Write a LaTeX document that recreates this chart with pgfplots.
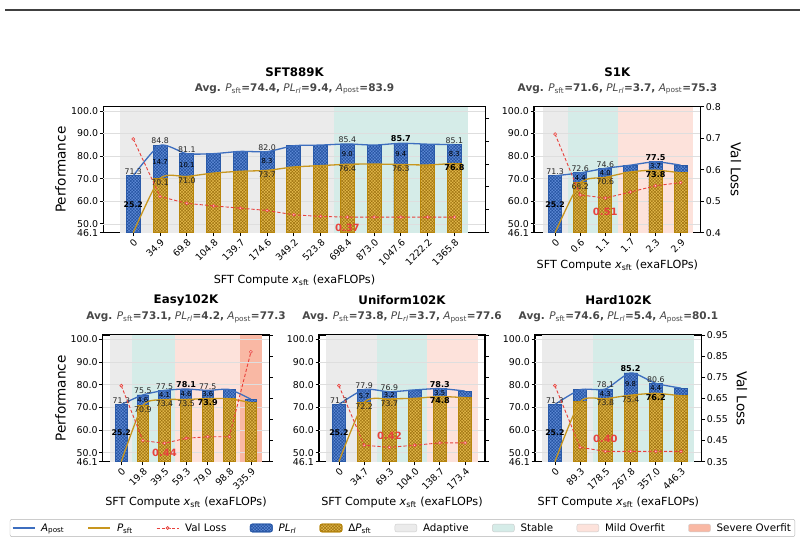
\documentclass[border=0pt]{standalone}
\usepackage{fontspec}
\setmainfont{DejaVu Sans}
\usepackage{pgfplots}
\usepackage{pgfplotstable}
\pgfplotsset{compat=1.18}
\usetikzlibrary{patterns.meta}

\definecolor{cBlue}{HTML}{3D6EBF}
\definecolor{cBlueFill}{HTML}{5E8AD6}
\definecolor{cBlueHatch}{HTML}{22509E}
\definecolor{cBlueEdge}{HTML}{2A5AA8}
\definecolor{cGold}{HTML}{C8961E}
\definecolor{cGoldFill}{HTML}{E4BA4C}
\definecolor{cGoldHatch}{HTML}{9E7210}
\definecolor{cGoldEdge}{HTML}{B8860B}
\definecolor{cRed}{HTML}{E8413C}
\definecolor{bgAd}{HTML}{EBEBEB}
\definecolor{bgSt}{HTML}{D5ECE8}
\definecolor{bgMi}{HTML}{FDE2DB}
\definecolor{bgSe}{HTML}{F9B8A4}

\newcommand{\fs}[1]{\fontsize{#1}{#1}\selectfont}
\newcommand{\Apost}{\textit{A}\textsubscript{post}}
\newcommand{\Psft}{\textit{P}\textsubscript{sft}}
\newcommand{\PLrl}{\textit{PL}\textsubscript{\textit{rl}}}
\newcommand{\xsft}{\textit{x}\textsubscript{sft}}
\newcommand{\subt}[3]{\textbf{Avg.} \Psft\textbf{=#1,} \PLrl\textbf{=#2,} \Apost\textbf{=#3}}

\newcommand{\LA}[2]{\node[anchor=south,inner sep=1pt,font=\fs{7.8},text=black!85] at (axis cs:#1,#2) {#2};}
\newcommand{\LAb}[2]{\node[anchor=south,inner sep=1pt,font=\bfseries\fs{8.1}] at (axis cs:#1,#2) {#2};}
\newcommand{\LP}[2]{\node[anchor=north,inner sep=1pt,font=\fs{7.8},text=black!85] at (axis cs:#1,#2) {#2};}
\newcommand{\LPb}[2]{\node[anchor=north,inner sep=1pt,font=\bfseries\fs{8.1}] at (axis cs:#1,#2) {#2};}
\newcommand{\LL}[4]{\node[inner sep=0pt,font=\fs{6.8}] at (axis cs:#1,{(#2+#3)/2}) {#4};}
\newcommand{\LZ}{\node[inner sep=0pt,font=\bfseries\fs{7.8}] at (axis cs:0,58.7) {25.2};}
\newcommand{\hgrid}[2]{\pgfplotsinvokeforeach{50,60,70,80,90,100}{\draw[black!13,line width=0.7pt] (axis cs:#1,##1) -- (axis cs:#2,##1);}}

\tikzset{minlab/.style={font=\bfseries\fs{10}, text=cRed, inner sep=0pt}}

\pgfplotsset{
  base/.style={scale only axis, anchor=south west, clip mode=individual,
    tick align=outside, major tick length=3.5pt,
    tick style={black, line width=0.8pt},
    axis line style={line width=1.1pt},
    /pgf/number format/assume math mode=true,
    ticklabel style={font=\fs{9.4}}},
  perf/.style={base, ymin=46.1, ymax=101.9,
    ytick={46.1,50,60,70,80,90,100},
    yticklabels={46.1,50.0,60.0,70.0,80.0,90.0,100.0},
    xtick pos=left, ytick pos=left,
    xticklabel style={rotate=45, anchor=north east, inner sep=1pt},
    yticklabel style={inner sep=1.5pt}},
  loss/.style={axis x line=none, axis y line*=right, base,
    yticklabel style={inner sep=1.5pt}},
  nolab/.style={yticklabels={{},{},{},{},{},{},{},{}}},
  hatchA/.style={fill=cBlueFill, draw=cBlueEdge,
    postaction={pattern={Hatch[angle=45,distance=2.2pt,line width=0.5pt]}, pattern color=cBlueHatch}},
  hatchP/.style={fill=cGoldFill, draw=cGoldEdge,
    postaction={pattern={Hatch[angle=45,distance=2.2pt,line width=0.5pt]}, pattern color=cGoldHatch}},
  barA/.style={ybar, bar width=0.52, bar shift=0pt, hatchA, line width=0.8pt},
  barP/.style={ybar, bar width=0.52, bar shift=0pt, hatchP, line width=0.8pt, skip coords between index={0}{1}},
  lineA/.style={color=cBlue, line width=1.3pt, smooth, tension=0.4, mark=none},
  lineP/.style={color=cGold, line width=1.3pt, smooth, tension=0.4, mark=none},
  lossline/.style={color=cRed, line width=0.9pt, dash pattern=on 3.2pt off 2pt, mark=*, mark size=1.5pt,
    mark options={solid, fill=cRed!20, draw=cRed, line width=0.6pt}},
  lg line/.style={legend image code/.code={\draw[mark repeat=2,mark phase=2,##1] plot coordinates {(0pt,0pt) (11pt,0pt) (22pt,0pt)};}},
  lg patch/.style={legend image code/.code={\draw[##1] (0pt,-3.9pt) rectangle (22pt,3.9pt);}},
}

\pgfplotstableread{
x A P V
0 71.3 46.1 0.709
1 84.8 70.1 0.458
2 81.1 71.0 0.428
3 81.1 72.5 0.417
4 82.1 73.3 0.407
5 82.0 73.7 0.397
6 84.6 75.2 0.378
7 84.9 75.8 0.371
8 85.4 76.4 0.368
9 84.9 76.5 0.368
10 85.7 76.3 0.368
11 85.3 76.1 0.368
12 85.1 76.8 0.368
}\dTL

\pgfplotstableread{
x A P V
0 71.3 46.1 0.713
1 72.6 68.2 0.520
2 74.6 70.6 0.510
3 76.0 73.0 0.529
4 77.5 73.8 0.549
5 76.0 72.6 0.559
}\dSK

\pgfplotstableread{
x A P V
0 71.3 46.1 0.710
1 75.5 70.9 0.450
2 77.5 73.4 0.437
3 78.1 73.5 0.461
4 77.5 73.9 0.468
5 77.9 73.8 0.468
6 73.6 72.1 0.870
}\dEA

\pgfplotstableread{
x A P V
0 71.3 46.1 0.710
1 77.9 72.2 0.428
2 76.9 73.7 0.418
3 77.7 74.0 0.428
4 78.3 74.8 0.439
5 77.2 74.3 0.439
}\dUN

\pgfplotstableread{
x A P V
0 71.3 46.1 0.710
1 77.8 72.5 0.418
2 78.1 73.8 0.399
3 85.2 75.4 0.399
4 80.6 76.2 0.399
5 78.5 75.1 0.399
}\dHA

\begin{document}
\begin{tikzpicture}[x=1pt,y=1pt]
\path[use as bounding box] (0,0) rectangle (804,545);
\draw[black!75, line width=1.4pt] (5,535) -- (800,535);

% ---------------- SFT889K
\begin{axis}[perf, at={(103.3pt,312.3pt)}, width=382.4pt, height=126pt, xmin=-1.12, xmax=13.17,
  xtick={0,1,2,3,4,5,6,7,8,9,10,11,12},
  xticklabels={0,34.9,69.8,104.8,139.7,174.6,349.2,523.8,698.4,873.0,1047.6,1222.2,1365.8}]
\fill[bgAd] (axis cs:-0.5,46.1) rectangle (axis cs:7.5,101.9);
\fill[bgSt] (axis cs:7.5,46.1) rectangle (axis cs:12.5,101.9);
\hgrid{-1.12}{13.17}
\addplot[barA] table[x=x,y=A]{\dTL};
\addplot[barP] table[x=x,y=P]{\dTL};
\addplot[lineA] table[x=x,y=A]{\dTL};
\addplot[lineP] table[x=x,y=P]{\dTL};
\LA{0}{71.3} \LZ
\LA{1}{84.8} \LP{1}{70.1} \LL{1}{84.8}{70.1}{14.7}
\LA{2}{81.1} \LP{2}{71.0} \LL{2}{81.1}{71.0}{10.1}
\LA{5}{82.0} \LP{5}{73.7} \LL{5}{82.0}{73.7}{8.3}
\LA{8}{85.4} \LP{8}{76.4} \LL{8}{85.4}{76.4}{9.0}
\LAb{10}{85.7} \LP{10}{76.3} \LL{10}{85.7}{76.3}{9.4}
\LA{12}{85.1} \LPb{12}{76.8} \LL{12}{85.1}{76.8}{8.3}
\end{axis}
\begin{axis}[loss, nolab, at={(103.3pt,312.3pt)}, width=382.4pt, height=126pt, xmin=-1.12, xmax=13.17,
  ymin=0.3, ymax=0.85, ytick={0.3,0.4,0.5,0.6,0.7,0.8}]
\addplot[lossline] table[x=x,y=V]{\dTL};
\node[minlab, yshift=-11pt] at (axis cs:8,0.368) {0.37};
\end{axis}

% ---------------- S1K
\begin{axis}[perf, at={(534pt,312.3pt)}, width=166.7pt, height=126pt, xmin=-0.84, xmax=5.8,
  xtick={0,1,2,3,4,5}, xticklabels={0,0.6,1.1,1.7,2.3,2.9}]
\fill[bgAd] (axis cs:-0.5,46.1) rectangle (axis cs:0.5,101.9);
\fill[bgSt] (axis cs:0.5,46.1) rectangle (axis cs:2.5,101.9);
\fill[bgMi] (axis cs:2.5,46.1) rectangle (axis cs:5.5,101.9);
\hgrid{-0.84}{5.8}
\addplot[barA] table[x=x,y=A]{\dSK};
\addplot[barP] table[x=x,y=P]{\dSK};
\addplot[lineA] table[x=x,y=A]{\dSK};
\addplot[lineP] table[x=x,y=P]{\dSK};
\LA{0}{71.3} \LZ
\LA{1}{72.6} \LP{1}{68.2} \LL{1}{72.6}{68.2}{4.4}
\LA{2}{74.6} \LP{2}{70.6} \LL{2}{74.6}{70.6}{4.0}
\LAb{4}{77.5} \LPb{4}{73.8} \LL{4}{77.5}{73.8}{3.7}
\end{axis}
\begin{axis}[loss, at={(534pt,312.3pt)}, width=166.7pt, height=126pt, xmin=-0.84, xmax=5.8,
  ymin=0.4, ymax=0.8, ytick={0.4,0.5,0.6,0.7,0.8}, yticklabels={0.4,0.5,0.6,0.7,0.8}]
\addplot[lossline] table[x=x,y=V]{\dSK};
\node[minlab, yshift=-14pt] at (axis cs:2,0.510) {0.51};
\end{axis}

% ---------------- Easy102K
\begin{axis}[perf, at={(102.7pt,83.3pt)}, width=166.6pt, height=126.7pt, xmin=-0.86, xmax=6.85,
  xtick={0,1,2,3,4,5,6}, xticklabels={0,19.8,39.5,59.3,79.0,98.8,335.9}]
\fill[bgAd] (axis cs:-0.5,46.1) rectangle (axis cs:0.5,101.9);
\fill[bgSt] (axis cs:0.5,46.1) rectangle (axis cs:2.5,101.9);
\fill[bgMi] (axis cs:2.5,46.1) rectangle (axis cs:5.5,101.9);
\fill[bgSe] (axis cs:5.5,46.1) rectangle (axis cs:6.5,101.9);
\hgrid{-0.86}{6.85}
\addplot[barA] table[x=x,y=A]{\dEA};
\addplot[barP] table[x=x,y=P]{\dEA};
\addplot[lineA] table[x=x,y=A]{\dEA};
\addplot[lineP] table[x=x,y=P]{\dEA};
\LA{0}{71.3} \LZ
\LA{1}{75.5} \LP{1}{70.9} \LL{1}{75.5}{70.9}{4.6}
\LA{2}{77.5} \LP{2}{73.4} \LL{2}{77.5}{73.4}{4.1}
\LAb{3}{78.1} \LP{3}{73.5} \LL{3}{78.1}{73.5}{4.6}
\LA{4}{77.5} \LPb{4}{73.9} \LL{4}{77.5}{73.9}{3.6}
\end{axis}
\begin{axis}[loss, nolab, at={(102.7pt,83.3pt)}, width=166.6pt, height=126.7pt, xmin=-0.86, xmax=6.85,
  ymin=0.35, ymax=0.95, ytick={0.35,0.45,0.55,0.65,0.75,0.85,0.95}]
\addplot[lossline] table[x=x,y=V]{\dEA};
\node[minlab, yshift=-10pt] at (axis cs:2,0.437) {0.44};
\end{axis}

% ---------------- Uniform102K
\begin{axis}[perf, at={(319pt,83.3pt)}, width=166pt, height=126.7pt, xmin=-0.79, xmax=5.79,
  xtick={0,1,2,3,4,5}, xticklabels={0,34.7,69.3,104.0,138.7,173.4}]
\fill[bgAd] (axis cs:-0.5,46.1) rectangle (axis cs:1.5,101.9);
\fill[bgSt] (axis cs:1.5,46.1) rectangle (axis cs:3.5,101.9);
\fill[bgMi] (axis cs:3.5,46.1) rectangle (axis cs:5.5,101.9);
\hgrid{-0.79}{5.79}
\addplot[barA] table[x=x,y=A]{\dUN};
\addplot[barP] table[x=x,y=P]{\dUN};
\addplot[lineA] table[x=x,y=A]{\dUN};
\addplot[lineP] table[x=x,y=P]{\dUN};
\LA{0}{71.3} \LZ
\LA{1}{77.9} \LP{1}{72.2} \LL{1}{77.9}{72.2}{5.7}
\LA{2}{76.9} \LP{2}{73.7} \LL{2}{76.9}{73.7}{3.2}
\LAb{4}{78.3} \LPb{4}{74.8} \LL{4}{78.3}{74.8}{3.5}
\end{axis}
\begin{axis}[loss, nolab, at={(319pt,83.3pt)}, width=166pt, height=126.7pt, xmin=-0.79, xmax=5.79,
  ymin=0.35, ymax=0.95, ytick={0.35,0.45,0.55,0.65,0.75,0.85,0.95}]
\addplot[lossline] table[x=x,y=V]{\dUN};
\node[minlab, yshift=11pt] at (axis cs:2,0.418) {0.42};
\end{axis}

% ---------------- Hard102K
\begin{axis}[perf, at={(535pt,83.3pt)}, width=166.7pt, height=126.7pt, xmin=-0.79, xmax=5.82,
  xtick={0,1,2,3,4,5}, xticklabels={0,89.3,178.5,267.8,357.0,446.3}]
\fill[bgAd] (axis cs:-0.5,46.1) rectangle (axis cs:1.5,101.9);
\fill[bgSt] (axis cs:1.5,46.1) rectangle (axis cs:5.5,101.9);
\hgrid{-0.79}{5.82}
\addplot[barA] table[x=x,y=A]{\dHA};
\addplot[barP] table[x=x,y=P]{\dHA};
\addplot[lineA] table[x=x,y=A]{\dHA};
\addplot[lineP] table[x=x,y=P]{\dHA};
\LA{0}{71.3} \LZ
\LA{2}{78.1} \LP{2}{73.8} \LL{2}{78.1}{73.8}{4.3}
\LAb{3}{85.2} \LP{3}{75.4} \LL{3}{85.2}{75.4}{9.8}
\LA{4}{80.6} \LPb{4}{76.2} \LL{4}{80.6}{76.2}{4.4}
\end{axis}
\begin{axis}[loss, at={(535pt,83.3pt)}, width=166.7pt, height=126.7pt, xmin=-0.79, xmax=5.82,
  ymin=0.35, ymax=0.95, ytick={0.35,0.45,0.55,0.65,0.75,0.85,0.95},
  yticklabels={0.35,0.45,0.55,0.65,0.75,0.85,0.95},
  legend columns=9, legend cell align=left,
  legend style={at={(-0.795,-0.5233)}, anchor=center, draw=black!30, rounded corners=2pt,
    font=\fs{10.3}, inner sep=2pt,
    /tikz/every odd column/.append style={column sep=4pt},
    /tikz/every even column/.append style={column sep=21.5pt}}]
\addlegendimage{lg line, color=cBlue, line width=1.2pt}\addlegendentry{\Apost}
\addlegendimage{lg line, color=cGold, line width=1.2pt}\addlegendentry{\Psft}
\addlegendimage{lg line, lossline}\addlegendentry{Val Loss}
\addlegendimage{lg patch, hatchA, line width=0.8pt}\addlegendentry{\PLrl}
\addlegendimage{lg patch, hatchP, line width=0.8pt}\addlegendentry{Δ\Psft}
\addlegendimage{lg patch, fill=bgAd, draw=black!20}\addlegendentry{Adaptive}
\addlegendimage{lg patch, fill=bgSt, draw=black!20}\addlegendentry{Stable}
\addlegendimage{lg patch, fill=bgMi, draw=black!20}\addlegendentry{Mild Overfit}
\addlegendimage{lg patch, fill=bgSe, draw=black!20}\addlegendentry{Severe Overfit}
\addplot[lossline, forget plot] table[x=x,y=V]{\dHA};
\node[minlab, yshift=12pt] at (axis cs:2,0.399) {0.40};
\end{axis}

% ---------------- titles and labels
\node[font=\bfseries\fs{11.8}] at (294.5,473) {SFT889K};
\node[font=\fs{10.5}, text=black!72] at (294.5,456) {\subt{74.4}{9.4}{83.9}};
\node[font=\bfseries\fs{11.8}] at (617.4,473) {S1K};
\node[font=\fs{10.5}, text=black!72] at (617.4,456) {\subt{71.6}{3.7}{75.3}};
\node[font=\bfseries\fs{11.8}] at (186,245) {Easy102K};
\node[font=\fs{10.5}, text=black!72] at (186,227.5) {\subt{73.1}{4.2}{77.3}};
\node[font=\bfseries\fs{11.8}] at (402,245) {Uniform102K};
\node[font=\fs{10.5}, text=black!72] at (402,227.5) {\subt{73.8}{3.7}{77.6}};
\node[font=\bfseries\fs{11.8}] at (618.4,245) {Hard102K};
\node[font=\fs{10.5}, text=black!72] at (618.4,227.5) {\subt{74.6}{5.4}{80.1}};

\node[rotate=90, font=\fs{13.6}] at (60.5,375.3) {Performance};
\node[rotate=90, font=\fs{13.6}] at (60.5,146.7) {Performance};
\node[rotate=-90, font=\fs{13.6}] at (736,375.3) {Val Loss};
\node[rotate=-90, font=\fs{13.6}] at (742,146.7) {Val Loss};

\node[font=\fs{11.2}] at (294.5,265) {SFT Compute \xsft{} (exaFLOPs)};
\node[font=\fs{11.2}] at (617.4,280) {SFT Compute \xsft{} (exaFLOPs)};
\node[font=\fs{11.2}] at (186,42.3) {SFT Compute \xsft{} (exaFLOPs)};
\node[font=\fs{11.2}] at (402,42.3) {SFT Compute \xsft{} (exaFLOPs)};
\node[font=\fs{11.2}] at (618.4,42.3) {SFT Compute \xsft{} (exaFLOPs)};
\end{tikzpicture}
\end{document}
